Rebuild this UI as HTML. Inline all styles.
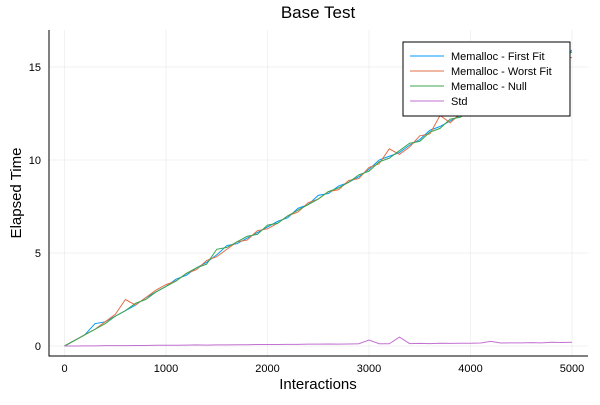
<!DOCTYPE html>
<html><head><meta charset="utf-8"><style>
body{margin:0;background:#fff;font-family:"Liberation Sans","DejaVu Sans",sans-serif}
</style></head><body>
<svg id="c" width="600" height="400" xmlns="http://www.w3.org/2000/svg"></svg>
<script>
const xs=[0,100,200,300,400,500,600,700,800,900,1000,1100,1200,1300,1400,1500,1600,1700,1800,1900,2000,2100,2200,2300,2400,2500,2600,2700,2800,2900,3000,3100,3200,3300,3400,3500,3600,3700,3800,3900,4000,4100,4200,4300,4400,4500,4600,4700,4800,4900,5000];
const firstFit=[0,0.3,0.6,1.2,1.3,1.6,1.9,2.2,2.6,2.9,3.2,3.6,3.8,4.2,4.5,4.9,5.4,5.5,5.8,6.1,6.4,6.7,6.9,7.4,7.6,8.1,8.2,8.6,8.8,9.1,9.5,10.0,10.2,10.4,10.8,11.1,11.6,11.8,12.1,12.4,12.6,13.1,13.3,13.6,13.9,14.3,14.6,14.9,15.3,15.5,15.9];
const worstFit=[0,0.3,0.6,0.9,1.3,1.7,2.5,2.2,2.6,3.0,3.3,3.5,3.9,4.1,4.6,4.8,5.2,5.6,5.7,6.2,6.3,6.6,7.0,7.2,7.7,7.9,8.3,8.4,8.9,9.0,9.6,9.8,10.6,10.3,10.7,11.3,11.4,12.4,12.0,12.5,12.7,13.0,13.4,13.5,14.0,14.2,14.7,14.8,15.2,15.6,15.5];
const nullSeries=[0,0.3,0.6,0.9,1.2,1.6,1.9,2.3,2.5,2.9,3.2,3.5,3.9,4.2,4.4,5.2,5.3,5.6,5.9,6.0,6.5,6.6,7.0,7.3,7.6,7.9,8.3,8.5,8.8,9.2,9.4,9.9,10.1,10.5,10.9,11.0,11.5,11.7,12.2,12.3,12.7,12.9,13.4,13.6,13.8,14.4,14.5,15.0,15.1,15.6,15.8];
const stdSeries=[0,0,0.01,0.01,0.02,0.02,0.02,0.03,0.03,0.04,0.04,0.04,0.05,0.06,0.05,0.06,0.06,0.07,0.07,0.08,0.08,0.08,0.09,0.09,0.1,0.1,0.11,0.1,0.11,0.12,0.32,0.12,0.12,0.48,0.13,0.14,0.13,0.15,0.14,0.15,0.15,0.16,0.25,0.16,0.17,0.17,0.18,0.17,0.2,0.19,0.2];
const xTicks=[0,1000,2000,3000,4000,5000];
const yTicks=[0,5,10,15];
const names=["Memalloc - First Fit","Memalloc - Worst Fit","Memalloc - Null","Std"];
const colors=["#009af9","#e26f46","#3da44d","#c271d2"];
const series=[firstFit,worstFit,nullSeries,stdSeries];
const L=49,R=588,T=30,B=356;
const X=v=>64.5+v*(572-64.5)/5000;
const Y=v=>346-v*18.6;
const svg=document.getElementById('c');
function el(t,a,p){const e=document.createElementNS('http://www.w3.org/2000/svg',t);for(const k in a)e.setAttribute(k,a[k]);(p||svg).appendChild(e);return e;}
xTicks.forEach(t=>{const g=el('line',{x1:X(t),x2:X(t),y1:T,y2:B,stroke:'#000','stroke-opacity':0.1,'stroke-width':0.5});


const tx=el('text',{x:X(t),y:B+16,'text-anchor':'middle','font-size':11,fill:'#000'});tx.textContent=t;

});
yTicks.forEach(t=>{const g=el('line',{x1:L,x2:R,y1:Y(t),y2:Y(t),stroke:'#000','stroke-opacity':0.1,'stroke-width':0.5});


const tx=el('text',{x:L-8,y:Y(t)+4,'text-anchor':'end','font-size':11,fill:'#000'});tx.textContent=t;

});
const ax=el('path',{d:`M${L} ${T}V${B}H${R}`,stroke:'#000',fill:'none','stroke-width':1});


series.forEach((s,i)=>{const p=el('polyline',{points:s.map((v,j)=>X(xs[j])+','+Y(v)).join(' '),fill:'none',stroke:colors[i],'stroke-width':1});

});
const ti=el('text',{x:318,y:18,'text-anchor':'middle','font-size':17});ti.textContent='Base Test';


const xl=el('text',{x:318,y:389,'text-anchor':'middle','font-size':15});xl.textContent='Interactions';


const yl=el('text',{x:21,y:193,'text-anchor':'middle','font-size':15,transform:'rotate(-90 21 193)'});yl.textContent='Elapsed Time';


const lb=el('rect',{x:403,y:42,width:167,height:74,fill:'#fff',stroke:'#000','stroke-width':1});


names.forEach((n,i)=>{const y=56+i*15;
const ln=el('line',{x1:410,x2:444,y1:y,y2:y,stroke:colors[i],'stroke-width':1});


const t=el('text',{x:451,y:y+4,'font-size':11});t.textContent=n;

});
</script>
</body></html>
